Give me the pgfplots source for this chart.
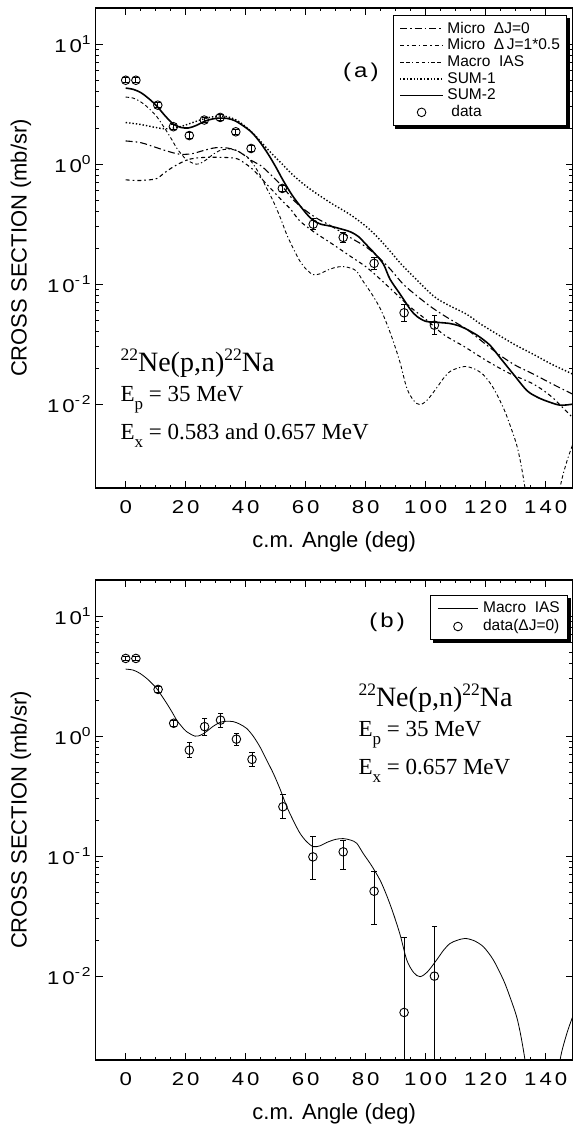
\documentclass[border=0pt]{standalone}
\usepackage{pgfplots}
\pgfplotsset{compat=1.18}
\usepackage{fontspec}
\setmainfont{Liberation Sans}
\newfontfamily\serif{Liberation Serif}
\newfontfamily\tickfont[FakeStretch=1.2]{Liberation Sans}
\newcommand{\yl}[1]{1\hspace{3pt}0\raisebox{7.5pt}{\fontsize{13}{13}\selectfont #1}}
\newcommand{\nsup}[1]{\raisebox{11.5pt}{\fontsize{17.5}{17.5}\selectfont #1}}
\newcommand{\nsub}[1]{\raisebox{-8pt}{\fontsize{17}{17}\selectfont #1}}
\newcommand{\tickfnt}{\tickfont\fontsize{18.5}{20}\selectfont}
\newcommand{\labfnt}{\fontsize{22}{24}\selectfont}
\newcommand{\legfnt}{\fontsize{15.5}{15.5}\selectfont}
\pgfplotsset{
 leglineA/.style={legend image code/.code={\draw[##1] (0pt,0pt) -- (43pt,0pt);}},
 leglineB/.style={legend image code/.code={\draw[##1] (0pt,0pt) -- (40pt,0pt);}},
 legmarkA/.style={legend image code/.code={\draw[##1,mark repeat=2,mark phase=2] plot coordinates {(0pt,0pt) (21.5pt,0pt) (43pt,0pt)};}},
 legmarkB/.style={legend image code/.code={\draw[##1,mark repeat=2,mark phase=2] plot coordinates {(0pt,0pt) (20pt,0pt) (40pt,0pt)};}},
}

\begin{document}
\begin{tikzpicture}
%================ (a) =================
\begin{axis}[at={(95.7pt,-8pt)}, anchor=north west,
  scale only axis, width=477pt, height=480pt,
  ymode=log, xmin=-10, xmax=149, ymin=0.002, ymax=20,
  axis line style={line width=1.2pt},
  tick style={line width=0.9pt, black},
  tick align=inside,
  major tick length=7pt, minor tick length=3.5pt,
  xtick={0,20,40,60,80,100,120,140},
  xticklabels={0,2\hspace{3pt}0,4\hspace{3pt}0,6\hspace{3pt}0,8\hspace{3pt}0,1\hspace{3pt}0\hspace{3pt}0,1\hspace{3pt}2\hspace{3pt}0,1\hspace{3pt}4\hspace{3pt}0},
  minor x tick num=3,
  ytick={0.01,0.1,1,10},
  yticklabels={\yl{-\hspace{2pt}2},\yl{-\hspace{2pt}1},\yl{0},\yl{1}},
  xticklabel style={font=\tickfnt, anchor=center, yshift=-19pt},
  yticklabel style={font=\tickfnt, anchor=east, xshift=-1.5pt},
  xlabel={c.m. Angle (deg)}, ylabel={CROSS SECTION (mb/sr)},
  xlabel style={font=\labfnt, at={(axis description cs:0.5,-0.1125)}, anchor=center},
  ylabel style={font=\labfnt, at={(axis description cs:-0.1566,0.5)}, anchor=center},
  unbounded coords=jump,
  legend cell align=left,
  leglineA,
  legend style={name=lega, at={(axis description cs:1,1)}, anchor=north east, xshift=-5.7pt, yshift=-7pt,
   draw=black, line width=1pt, fill=white, font=\legfnt,
   inner xsep=6pt, inner ysep=5pt, row sep=0pt, column sep=3pt,
   nodes={inner sep=0.6pt, text height=12pt, text depth=3.5pt}}]
% Micro dJ=0
\addplot[black, line width=1.1pt, dash pattern=on 7pt off 3pt on 1.6pt off 3pt, smooth] coordinates {
(0,1.56) (5,1.51) (10,1.38) (14,1.28) (18,1.21) (22,1.22) (26,1.30) (30,1.37) (34,1.36) (37.5,1.28) (42,1.07) (44.8,0.98) (47,0.88) (52,0.66) (56,0.5) (60,0.41) (64,0.35) (68,0.31) (72,0.27) (76,0.235) (80,0.205) (84,0.17) (88,0.135) (92.5,0.10) (97,0.08) (102,0.064) (107,0.053) (113.7,0.042) (119,0.033) (124.8,0.0255) (130,0.021) (135.9,0.0178) (142,0.0148) (149,0.0121)};
\addlegendentry{Micro\ \ ΔJ=0}
% Micro dJ=1*0.5
\addplot[black, line width=1.1pt, dash pattern=on 4pt off 3pt on 1.6pt off 3pt, smooth] coordinates {
(0,0.74) (4,0.73) (8,0.74) (10.5,0.76) (12.5,0.83) (15,0.92) (17.5,1.0) (20.3,1.08) (23,1.12) (27,1.14) (31,1.14) (35,1.13) (37.5,1.10) (42,0.92) (47,0.68) (52,0.50) (55,0.42) (58,0.337) (62.5,0.275) (69,0.215) (75,0.17) (80,0.14) (84,0.115) (89,0.088) (95,0.064) (100,0.051) (106,0.038) (113,0.030) (120.3,0.023) (128,0.018) (135.9,0.0147) (142,0.0115) (149,0.0077)};
\addlegendentry{Micro\ \ Δ\,J=1*0.5}
% Macro IAS
\addplot[black, line width=0.9pt, dash pattern=on 3.5pt off 2.5pt on 3.5pt off 2.5pt on 1.2pt off 2.5pt, smooth] coordinates {
(0,3.62) (2.5,3.55) (4.8,3.33) (7.5,2.95) (10.3,2.50) (12,2.17) (13.7,1.87) (15.5,1.58) (17,1.36) (18.7,1.2) (20.3,1.09) (23.1,1.0) (25,1.02) (26.9,1.09) (29,1.2) (31.4,1.30) (33.5,1.33) (35.9,1.32) (38,1.26) (40.3,1.16) (42.5,1.0) (44.8,0.81) (47,0.63) (49.2,0.49) (51.5,0.36) (53.7,0.258) (56,0.195) (58.1,0.155) (60.3,0.132) (62.5,0.12) (64.8,0.122) (67,0.13) (70,0.138) (72.5,0.14) (75,0.136) (77,0.128) (79.2,0.105) (82,0.083) (84.8,0.063) (87,0.047) (89.2,0.0333) (91.5,0.022) (93.7,0.0136) (96,0.0107) (98.1,0.0099) (100.5,0.0108) (103.6,0.0136) (106,0.0165) (108.1,0.0187) (110.5,0.0199) (113.1,0.0206) (116,0.0198) (119.2,0.0176) (122.5,0.0137) (125.9,0.0093) (128,0.0068) (130.3,0.0046) (131.7,0.0032) (133.1,0.0020) (134.5,0.0011) (136,0.0005) (140,0.0002) (143.5,0.0009) (144.8,0.0020) (147,0.0033) (149,0.0046)};
\addlegendentry{Macro\ \ IAS}
% SUM-1
\addplot[black, line width=1.4pt, dash pattern=on 1.4pt off 2pt, smooth] coordinates {
(0,2.22) (5,2.14) (10,2.02) (13,1.97) (16,2.0) (19,2.08) (23,2.25) (27,2.42) (31,2.52) (34,2.48) (37,2.32) (40,2.05) (43,1.75) (46,1.45) (49,1.2) (52.5,0.98) (56,0.8) (60,0.66) (64,0.56) (69,0.464) (74.8,0.38) (80.3,0.30) (84,0.245) (88,0.19) (92,0.145) (96,0.115) (102.5,0.08) (107,0.068) (113.7,0.056) (118,0.047) (124.8,0.037) (130,0.031) (135.9,0.026) (142,0.0215) (149,0.0178)};
\addlegendentry{SUM-1}
% SUM-2
\addplot[black, line width=1.6pt, smooth] coordinates {
(0,4.30) (2.5,4.2) (5,3.95) (7.5,3.55) (10.3,3.06) (13,2.55) (15.9,2.15) (18.5,2.02) (20.9,2.0) (23.5,2.1) (26.4,2.28) (29,2.38) (31.4,2.42) (34,2.40) (36.4,2.30) (39,2.10) (42,1.84) (44.8,1.52) (47.5,1.21) (50,0.95) (52.5,0.73) (55.5,0.55) (58.1,0.45) (60.5,0.38) (62.5,0.34) (65,0.316) (68.1,0.305) (72.5,0.285) (75,0.272) (77.5,0.25) (80.3,0.212) (83,0.18) (85.9,0.147) (88.1,0.11) (91.4,0.083) (94.8,0.062) (97,0.054) (100,0.049) (104,0.048) (108,0.047) (111,0.045) (113.7,0.042) (117.5,0.037) (121.4,0.031) (125,0.024) (129.2,0.0178) (133.7,0.013) (137,0.0115) (140.3,0.0106) (144.8,0.0098) (149,0.0100)};
\addlegendentry{SUM-2}
% error bars of the data (low, high per angle)
\addplot[black, line width=0.9pt, mark=-, mark size=2.8pt, forget plot] coordinates {
(0,4.75) (0,5.25) (0,nan)
(3.4,4.75) (3.4,5.25) (3.4,nan)
(10.7,2.95) (10.7,3.25) (10.7,nan)
(15.9,1.95) (15.9,2.15) (15.9,nan)
(21.2,1.64) (21.2,1.82) (21.2,nan)
(26.2,2.21) (26.2,2.45) (26.2,nan)
(31.5,2.33) (31.5,2.57) (31.5,nan)
(36.7,1.77) (36.7,1.95) (36.7,nan)
(41.8,1.28) (41.8,1.42) (41.8,nan)
(52.2,0.595) (52.2,0.659) (52.2,nan)
(62.5,0.285) (62.5,0.351) (62.5,nan)
(72.5,0.223) (72.5,0.269) (72.5,nan)
(82.8,0.133) (82.8,0.167) (82.8,nan)
(92.8,0.0489) (92.8,0.0681) (92.8,nan)
(102.9,0.0379) (102.9,0.0547)};
% data
\addplot[black, only marks, mark=o, mark size=4.3pt, mark options={line width=0.9pt}, legmarkA] coordinates {
(0,5.0) (3.4,5.0) (10.7,3.10) (15.9,2.05) (21.2,1.73) (26.2,2.33) (31.5,2.45) (36.7,1.86) (41.8,1.35) (52.2,0.627) (62.5,0.316) (72.5,0.245) (82.8,0.149) (92.8,0.0577) (102.9,0.0455)};
\addlegendentry{\hspace{4pt}data}
\node[font=\tickfont\fontsize{20}{20}\selectfont] at (rel axis cs:0.556,0.867) {(\hspace{3pt}a\hspace{3pt})};
\node[anchor=base west, font=\serif\fontsize{28}{28}\selectfont] at (rel axis cs:0.0447,0.2423) {\nsup{22}Ne(p,n)\nsup{22}Na};
\node[anchor=base west, font=\serif\fontsize{23}{23}\selectfont] at (rel axis cs:0.0447,0.1798) {E\nsub{p} = 35 MeV};
\node[anchor=base west, font=\serif\fontsize{23}{23}\selectfont] at (rel axis cs:0.0447,0.1015) {E\nsub{x} = 0.583 and 0.657 MeV};
\end{axis}
\fill ([xshift=2.5pt,yshift=-2.5pt]lega.south west) rectangle ([xshift=2.5pt]lega.south east);
\fill ([yshift=-2.5pt]lega.north east) rectangle ([xshift=2.5pt,yshift=-2.5pt]lega.south east);
%================ (b) =================
\begin{axis}[at={(95.7pt,-580pt)}, anchor=north west,
  scale only axis, width=477pt, height=480pt,
  ymode=log, xmin=-10, xmax=149, ymin=0.002, ymax=20,
  axis line style={line width=1.2pt},
  tick style={line width=0.9pt, black},
  tick align=inside,
  major tick length=7pt, minor tick length=3.5pt,
  xtick={0,20,40,60,80,100,120,140},
  xticklabels={0,2\hspace{3pt}0,4\hspace{3pt}0,6\hspace{3pt}0,8\hspace{3pt}0,1\hspace{3pt}0\hspace{3pt}0,1\hspace{3pt}2\hspace{3pt}0,1\hspace{3pt}4\hspace{3pt}0},
  minor x tick num=3,
  ytick={0.01,0.1,1,10},
  yticklabels={\yl{-\hspace{2pt}2},\yl{-\hspace{2pt}1},\yl{0},\yl{1}},
  xticklabel style={font=\tickfnt, anchor=center, yshift=-19pt},
  yticklabel style={font=\tickfnt, anchor=east, xshift=-1.5pt},
  xlabel={c.m. Angle (deg)}, ylabel={CROSS SECTION (mb/sr)},
  xlabel style={font=\labfnt, at={(axis description cs:0.5,-0.1125)}, anchor=center},
  ylabel style={font=\labfnt, at={(axis description cs:-0.1566,0.5)}, anchor=center},
  unbounded coords=jump,
  legend cell align=left,
  leglineB,
  legend style={name=legb, at={(axis description cs:1,1)}, anchor=north east, xshift=-4.7pt, yshift=-15pt,
   draw=black, line width=1pt, fill=white, font=\legfnt,
   inner xsep=7pt, inner ysep=4pt, row sep=0pt, column sep=4pt,
   nodes={inner sep=0.75pt, text height=12.5pt, text depth=4pt}}]
\addplot[black, line width=0.8pt, smooth] coordinates {
(0,3.62) (2.5,3.55) (4.8,3.33) (7.5,2.95) (10.3,2.50) (12,2.17) (13.7,1.87) (15.5,1.58) (17,1.36) (18.7,1.2) (20.3,1.09) (23.1,1.0) (25,1.02) (26.9,1.09) (29,1.2) (31.4,1.30) (33.5,1.33) (35.9,1.32) (38,1.26) (40.3,1.16) (42.5,1.0) (44.8,0.81) (47,0.63) (49.2,0.49) (51.5,0.36) (53.7,0.258) (56,0.195) (58.1,0.155) (60.3,0.132) (62.5,0.12) (64.8,0.122) (67,0.13) (70,0.138) (72.5,0.14) (75,0.136) (77,0.128) (79.2,0.105) (82,0.083) (84.8,0.063) (87,0.047) (89.2,0.0333) (91.5,0.022) (93.7,0.0136) (96,0.0107) (98.1,0.0099) (100.5,0.0108) (103.6,0.0136) (106,0.0165) (108.1,0.0187) (110.5,0.0199) (113.1,0.0206) (116,0.0198) (119.2,0.0176) (122.5,0.0137) (125.9,0.0093) (128,0.0068) (130.3,0.0046) (131.7,0.0032) (133.1,0.0020) (134.5,0.0011) (136,0.0005) (140,0.0002) (143.5,0.0009) (144.8,0.0020) (147,0.0033) (149,0.0046)};
\addlegendentry{Macro\ \ IAS}
\addplot[black, line width=0.9pt, mark=-, mark size=2.8pt, forget plot] coordinates {
(0,4.24) (0,4.64) (0,nan)
(3.4,4.24) (3.4,4.64) (3.4,nan)
(10.8,2.33) (10.8,2.57) (10.8,nan)
(16,1.20) (16,1.36) (16,nan)
(21.2,0.659) (21.2,0.889) (21.2,nan)
(26.3,1.02) (26.3,1.41) (26.3,nan)
(31.6,1.19) (31.6,1.555) (31.6,nan)
(36.9,0.844) (36.9,1.059) (36.9,nan)
(42.1,0.56) (42.1,0.732) (42.1,nan)
(52.4,0.205) (52.4,0.325) (52.4,nan)
(62.4,0.0636) (62.4,0.1466) (62.4,nan)
(72.5,0.0776) (72.5,0.1356) (72.5,nan)
(82.8,0.027) (82.8,0.075) (82.8,nan)
(92.8,0.00018) (92.8,0.02098) (92.8,nan)
(102.9,0.0002) (102.9,0.0258)};
\addplot[black, only marks, mark=o, mark size=4.3pt, mark options={line width=0.9pt}, legmarkB] coordinates {
(0,4.44) (3.4,4.44) (10.8,2.45) (16,1.28) (21.2,0.764) (26.3,1.20) (31.6,1.36) (36.9,0.944) (42.1,0.64) (52.4,0.258) (62.4,0.0986) (72.5,0.1086) (82.8,0.051) (92.8,0.00498) (102.9,0.010)};
\addlegendentry{data(ΔJ=0)}
\node[font=\tickfont\fontsize{20}{20}\selectfont] at (rel axis cs:0.6109,0.9125) {(\hspace{3pt}b\hspace{3pt})};
\node[anchor=base west, font=\serif\fontsize{28}{28}\selectfont] at (rel axis cs:0.5436,0.736) {\nsup{22}Ne(p,n)\nsup{22}Na};
\node[anchor=base west, font=\serif\fontsize{23}{23}\selectfont] at (rel axis cs:0.5436,0.675) {E\nsub{p} = 35 MeV};
\node[anchor=base west, font=\serif\fontsize{23}{23}\selectfont] at (rel axis cs:0.5436,0.594) {E\nsub{x} = 0.657 MeV};
\end{axis}
\fill ([xshift=2.5pt,yshift=-2.5pt]legb.south west) rectangle ([xshift=2.5pt]legb.south east);
\fill ([yshift=-2.5pt]legb.north east) rectangle ([xshift=2.5pt,yshift=-2.5pt]legb.south east);
\pgfresetboundingbox
\path (0pt,0pt) rectangle (573pt,-1127pt);
\end{tikzpicture}
\end{document}
